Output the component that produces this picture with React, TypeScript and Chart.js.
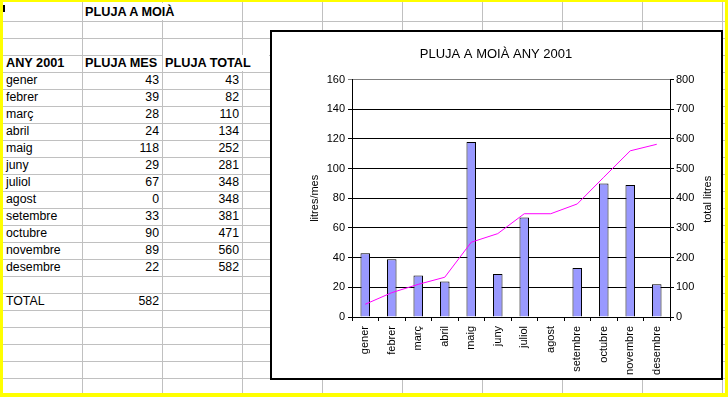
import React, { useEffect, useRef } from 'react';
import { Chart, registerables } from 'chart.js';

Chart.register(...registerables);

// ---- data ----
const months = ['gener', 'febrer', 'març', 'abril', 'maig', 'juny', 'juliol', 'agost', 'setembre', 'octubre', 'novembre', 'desembre'];
const plujaMes = [43, 39, 28, 24, 118, 29, 67, 0, 33, 90, 89, 22];
const plujaTotal = [43, 82, 110, 134, 252, 281, 348, 348, 381, 471, 560, 582];
const totalLabel = 'TOTAL';
const totalValue = 582;
const sheetTitle = 'PLUJA A MOIÀ';
const headers = ['ANY 2001', 'PLUJA MES', 'PLUJA TOTAL'];
const chartTitle = 'PLUJA A MOIÀ ANY 2001';
const leftAxisTitle = 'litres/mes';
const rightAxisTitle = 'total litres';
const leftMax = 160;
const leftStep = 20;
const rightMax = 800;
const rightStep = 100;

const FONT = "'Liberation Sans', Arial, sans-serif";
const ROW_H = 17;
const ROW0 = 3.7;
const COL_W = 80;
const GRID = '#C0C0C0';

const rightTitlePlugin = {
  id: 'rightTitle',
  afterDraw(chart: any) {
    const { ctx, chartArea } = chart;
    const sc = chart.scales.y1;
    ctx.save();
    ctx.font = `11px ${FONT}`;
    ctx.fillStyle = '#000';
    ctx.textAlign = 'center';
    ctx.textBaseline = 'middle';
    ctx.translate(sc.right - 13, (chartArea.top + chartArea.bottom) / 2 + 1);
    ctx.rotate(-Math.PI / 2);
    ctx.fillText(rightAxisTitle, 0, 0);
    ctx.restore();
  },
};

function ChartBox() {
  const ref = useRef<HTMLCanvasElement | null>(null);
  useEffect(() => {
    if (!ref.current) return;
    const chart = new Chart(ref.current, {
      type: 'bar',
      data: {
        labels: months,
        datasets: [
          {
            type: 'line',
            label: 'PLUJA TOTAL',
            data: plujaTotal,
            borderColor: '#FF00FF',
            borderWidth: 1,
            pointRadius: 0,
            tension: 0,
            fill: false,
            yAxisID: 'y1',
            order: 0,
          } as any,
          {
            type: 'bar',
            label: 'PLUJA MES',
            data: plujaMes,
            backgroundColor: '#9999FF',
            borderColor: '#000',
            borderWidth: 1,
            barPercentage: 0.36,
            categoryPercentage: 1,
            yAxisID: 'y',
            order: 1,
          } as any,
        ],
      },
      options: {
        responsive: false,
        animation: false,
        devicePixelRatio: 1,
        layout: { padding: 0 },
        plugins: {
          legend: { display: false },
          tooltip: { enabled: false },
          title: {
            display: true,
            text: chartTitle,
            color: '#000',
            font: { family: FONT, size: 13, weight: 'normal' as any },
            padding: { top: 15, bottom: 17 },
          },
        },
        scales: {
          x: {
            type: 'category',
            offset: true,
            grid: { display: true, drawOnChartArea: false, drawTicks: true, tickLength: 4, color: '#000', offset: true },
            border: { display: true, color: '#000' },
            ticks: { minRotation: 90, maxRotation: 90, autoSkip: false, padding: 5, color: '#000', font: { family: FONT, size: 11 } },
            afterFit: (s: any) => { s.height = 61; },
          },
          y: {
            position: 'left',
            min: 0,
            max: leftMax,
            ticks: { stepSize: leftStep, padding: 3, color: '#000', font: { family: FONT, size: 11 } },
            grid: {
              color: (c: any) => (c.tick && c.tick.value === leftMax ? '#808080' : '#000'),
              tickLength: 4,
              drawTicks: true,
            },
            border: { display: true, color: '#000' },
            title: {
              display: true,
              text: leftAxisTitle,
              color: '#000',
              font: { family: FONT, size: 11 },
              padding: { top: 37, bottom: 0 },
            },
            afterFit: (s: any) => { s.width = 81; },
          },
          y1: {
            position: 'right',
            min: 0,
            max: rightMax,
            ticks: { stepSize: rightStep, padding: 2, color: '#000', font: { family: FONT, size: 11 } },
            grid: { drawOnChartArea: false, tickLength: 4, color: '#000' },
            border: { display: true, color: '#000' },
            afterFit: (s: any) => { s.width = 51; },
          },
        },
      } as any,
      plugins: [rightTitlePlugin],
    });
    return () => chart.destroy();
  }, []);
  return (
    <canvas
      ref={ref}
      width={450}
      height={346}
      style={{ position: 'absolute', left: 271, top: 32, width: 450, height: 346 }}
    />
  );
}

function Cell(props: { col: number; row: number; text: string | number; bold?: boolean; right?: boolean; span?: number }) {
  const { col, row, text, bold, right, span = 1 } = props;
  const left = col === 0 ? 3 : 82 + (col - 1) * COL_W;
  const width = (col === 0 ? 79 : COL_W) + (span - 1) * COL_W;
  return (
    <div
      style={{
        position: 'absolute',
        left: left + (right ? 0 : 3),
        top: ROW0 + row * ROW_H,
        width: width - 3,
        height: ROW_H,
        lineHeight: ROW_H + 'px',
        fontSize: bold ? 12.7 : 12.3,
        fontFamily: FONT,
        fontWeight: bold ? 'bold' : 'normal',
        textAlign: right ? 'right' : 'left',
        color: '#000',
        whiteSpace: 'nowrap',
      }}
    >
      {text}
    </div>
  );
}

export default function App() {
  const hLines: number[] = [];
  for (let k = 0; k < 22; k++) hLines.push(Math.round(20.7 + k * ROW_H));
  const vLines: number[] = [];
  for (let j = 0; j < 9; j++) vLines.push(82 + j * COL_W);

  return (
    <div style={{ position: 'absolute', left: 0, top: 0, width: 728, height: 397, background: '#FFFF00', overflow: 'hidden' }}>
      <div style={{ position: 'absolute', left: 3, top: 2, width: 722, height: 391, background: '#fff', overflow: 'hidden' }}>
        {hLines.map((y) => (
          <div key={'h' + y} style={{ position: 'absolute', left: 0, top: y - 2, width: 722, height: 1, background: GRID }} />
        ))}
        {vLines.map((x) => (
          <div key={'v' + x} style={{ position: 'absolute', left: x - 3, top: 0, width: 1, height: 391, background: GRID }} />
        ))}
      </div>
      {/* overflow covers */}
      <div style={{ position: 'absolute', left: 83, top: 3, width: 158, height: 17, background: '#fff' }} />
      <div style={{ position: 'absolute', left: 163, top: 55, width: 106, height: 16, background: '#fff' }} />
      <div style={{ position: 'absolute', left: 3, top: 5, width: 2, height: 7, background: '#000' }} />

      <Cell col={1} row={0} text={sheetTitle} bold span={2} />
      <Cell col={0} row={3} text={headers[0]} bold />
      <Cell col={1} row={3} text={headers[1]} bold />
      <Cell col={2} row={3} text={headers[2]} bold span={2} />
      {months.map((m, i) => (
        <React.Fragment key={m}>
          <Cell col={0} row={4 + i} text={m} />
          <Cell col={1} row={4 + i} text={plujaMes[i]} right />
          <Cell col={2} row={4 + i} text={plujaTotal[i]} right />
        </React.Fragment>
      ))}
      <Cell col={0} row={17} text={totalLabel} />
      <Cell col={1} row={17} text={totalValue} right />

      <div
        style={{
          position: 'absolute',
          left: 270,
          top: 30,
          width: 453,
          height: 350,
          boxSizing: 'border-box',
          border: '2px solid #000',
          background: '#fff',
        }}
      />
      <ChartBox />
    </div>
  );
}
